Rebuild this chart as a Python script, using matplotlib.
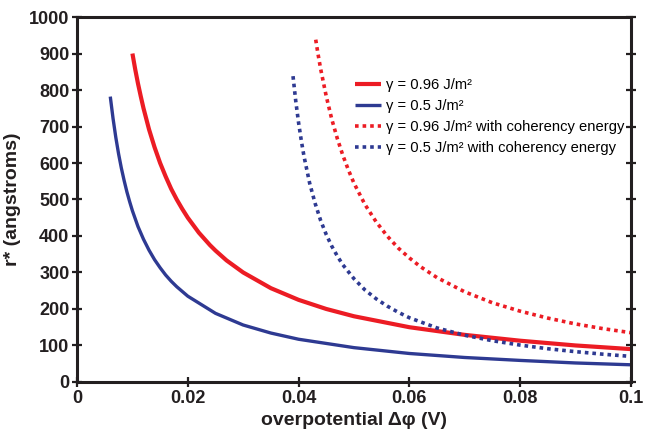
import matplotlib
matplotlib.use('Agg')
import matplotlib.pyplot as plt

plt.rcParams['font.family'] = ['Liberation Sans', 'DejaVu Sans']

RED = '#ec1c24'
BLUE = '#2e3a92'
INK = '#231f20'

# values
x_red = [0.010, 0.0105, 0.011, 0.0115, 0.012, 0.013, 0.014, 0.015, 0.016,
         0.017, 0.018, 0.019, 0.020, 0.022, 0.024, 0.025, 0.027, 0.030,
         0.035, 0.040, 0.045, 0.050, 0.060, 0.070, 0.080, 0.090, 0.100]
r_red = [900, 857, 818, 783, 750, 692, 643, 600, 563,
         529, 500, 474, 450, 409, 375, 360, 333, 300,
         257, 225, 200, 180, 150, 129, 113, 100, 90]

x_blue = [0.006, 0.0065, 0.007, 0.0075, 0.008, 0.0085, 0.009, 0.0095, 0.010,
          0.011, 0.012, 0.013, 0.014, 0.015, 0.016, 0.017, 0.018, 0.020,
          0.025, 0.030, 0.035, 0.040, 0.050, 0.060, 0.070, 0.080, 0.090,
          0.100]
r_blue = [782, 722, 670, 625, 586, 552, 521, 494, 469,
          426, 391, 361, 335, 313, 293, 276, 261, 235,
          188, 156, 134, 117, 94, 78, 67, 59, 52,
          47]

x_red_coh = [0.0431, 0.0435, 0.044, 0.045, 0.046, 0.047, 0.048, 0.049, 0.050,
             0.052, 0.054, 0.056, 0.058, 0.060, 0.062, 0.065, 0.070, 0.075,
             0.080, 0.085, 0.090, 0.095, 0.100]
r_red_coh = [938, 900, 857, 783, 720, 667, 621, 581, 545,
             486, 439, 400, 367, 340, 316, 286, 247, 217,
             194, 175, 159, 146, 135]

x_blue_coh = [0.039, 0.0395, 0.040, 0.0405, 0.041, 0.042, 0.043, 0.044, 0.045,
              0.046, 0.047, 0.048, 0.050, 0.052, 0.054, 0.056, 0.058, 0.060,
              0.065, 0.070, 0.075, 0.080, 0.085, 0.090, 0.095, 0.100]
r_blue_coh = [838, 769, 711, 661, 617, 545, 489, 442, 404,
              372, 345, 321, 283, 252, 228, 208, 191, 176,
              148, 128, 113, 101, 91, 83, 76, 70]

labels = ['γ = 0.96 J/m²', 'γ = 0.5 J/m²',
          'γ = 0.96 J/m² with coherency energy',
          'γ = 0.5 J/m² with coherency energy']

fig = plt.figure(figsize=(6.53, 4.37), dpi=100)
ax = fig.add_axes([0.118, 0.126, 0.848, 0.835])

dots = (0, (1.0, 1.1))
ax.plot(x_red, r_red, color=RED, lw=3.0, label=labels[0], solid_capstyle='butt')
ax.plot(x_blue, r_blue, color=BLUE, lw=2.4, label=labels[1], solid_capstyle='butt')
ax.plot(x_red_coh, r_red_coh, color=RED, lw=2.6, ls=dots, label=labels[2])
ax.plot(x_blue_coh, r_blue_coh, color=BLUE, lw=2.6, ls=dots, label=labels[3])

ax.set_xlim(0, 0.1)
ax.set_ylim(0, 1000)
ax.set_xticks([0, 0.02, 0.04, 0.06, 0.08, 0.1])
ax.set_xticklabels(['0', '0.02', '0.04', '0.06', '0.08', '0.1'])
ax.set_yticks(range(0, 1001, 100))

for sp in ax.spines.values():
    sp.set_linewidth(2.2)
    sp.set_color(INK)
ax.tick_params(direction='inout', length=7, width=1.6, color=INK,
               labelsize=13, pad=2, top=False, right=True)
for lab in ax.get_xticklabels() + ax.get_yticklabels():
    lab.set_fontweight('bold')
    lab.set_color(INK)

ax.set_xlabel('overpotential Δφ (V)', fontsize=14, fontweight='bold',
              color=INK, labelpad=4)
ax.set_ylabel('r* (angstroms)', fontsize=14, fontweight='bold',
              color=INK, labelpad=6)

ax.legend(loc='upper left', bbox_to_anchor=(0.491, 0.848), frameon=False,
          fontsize=10.6, handlelength=1.8, handletextpad=0.3,
          labelspacing=0.47, borderaxespad=0)

fig.savefig('out.png', dpi=100)
